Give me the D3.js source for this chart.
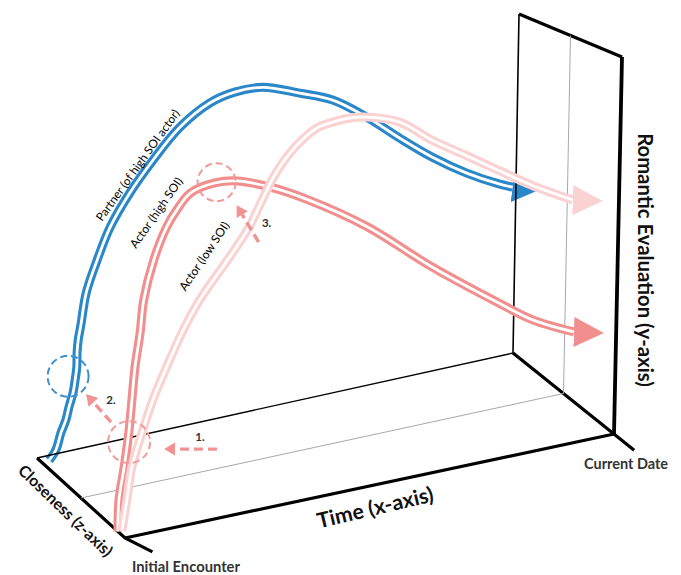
<!DOCTYPE html>
<html><head><meta charset="utf-8">
<script src="https://cdn.jsdelivr.net/npm/d3@7"></script>
<style>body{margin:0;background:#fff}svg{display:block}</style>
</head><body>
<svg id="chart" width="681" height="575"></svg>
<script>
// ---------------- data ----------------
const seriesNames = ["Partner (of high SOI actor)", "Actor (high SOI)", "Actor (low SOI)"];
const seriesCloseness = [0.95, 0.08, 0.08];   // z-position of each trajectory (0 = front, 1 = back)

// time: % of span Initial Encounter -> Current Date ; eval: % of romantic evaluation axis
const partnerTime = [1.6, 3.0, 4.0, 5.0, 5.6, 6.4, 6.8, 7.1, 7.1, 7.3, 7.8, 8.8, 11.0, 13.6, 17.6, 22.4, 27.9, 34.1, 39.3, 45.2, 53.0, 60.0, 67.2, 74.2, 81.2, 88.5, 95.5, 98.2];
const partnerEval = [0, 2.6, 7.3, 10.8, 14.4, 18.3, 22.0, 25.7, 29.8, 33.6, 37.8, 46.9, 55.9, 64.7, 73.5, 81.7, 89.6, 94.8, 96.4, 96.0, 91.9, 87.7, 80.5, 72.2, 64.4, 57.5, 52.1, 50.4];

const actorHighTime = [0, 0.07, 1.0, 1.8, 2.3, 2.8, 3.7, 4.3, 6.2, 8.7, 10.7, 13.5, 18.4, 22.9, 29.7, 38.0, 50.0, 63.6, 77.5, 84.6, 93.0];
const actorHighEval = [0, 8.4, 17.0, 25.9, 34.5, 43.2, 52.1, 60.7, 70.9, 79.0, 83.0, 86.8, 88.1, 87.4, 83.9, 78.0, 67.6, 53.0, 39.5, 33.0, 27.5];

const actorLowTime = [0.8, 1.7, 2.6, 4.5, 6.6, 9.3, 12.3, 15.8, 21.4, 25.7, 27.8, 30.4, 32.4, 35.2, 39.2, 42.5, 46.0, 49.7, 56.3, 62.9, 69.9, 76.7, 83.6, 92.2];
const actorLowEval = [0, 8.0, 16.6, 25.1, 33.3, 41.4, 49.7, 57.5, 66.7, 74.3, 79.6, 86.1, 89.8, 93.6, 97.0, 97.7, 97.8, 97.0, 93.8, 87.2, 81.2, 75.3, 69.4, 63.0];

// highlighted moments (dashed circles)
const highlightTime = [5.3, 1.9, 18.8];
const highlightEval = [23.5, 23.4, 88.2];
const highlightCloseness = [0.95, 0.08, 0.08];

const timeTickLabels = ["Initial Encounter", "Current Date"];
const axisTitles = ["Time (x-axis)", "Romantic Evaluation (y-axis)", "Closeness (z-axis)"];
const stepLabels = ["1.", "2.", "3."];

// ---------------- layout / projection ----------------
const svg = d3.select("#chart");
const FONT = "Lato, 'Open Sans', sans-serif";

const tScale = d3.scaleLinear().domain([0, 100]).range([0, 1]);
const vScale = d3.scaleLinear().domain([0, 100]).range([0, 1]);
const zScale = d3.scaleLinear().domain([0, 1]).range([0, 1]);

// floor corners & wall height vectors (screen px)
const FL = [125, 538], FR = [614, 434], BL = [37, 458], BR = [513, 353];
const UF = [8, -377], UB = [6, -339];

function proj(t, v, z) {
  const fx = (1 - z) * ((1 - t) * FL[0] + t * FR[0]) + z * ((1 - t) * BL[0] + t * BR[0]);
  const fy = (1 - z) * ((1 - t) * FL[1] + t * FR[1]) + z * ((1 - t) * BL[1] + t * BR[1]);
  const ux = (1 - z) * UF[0] + z * UB[0];
  const uy = (1 - z) * UF[1] + z * UB[1];
  return [fx + v * ux, fy + v * uy];
}
const P = (time, ev, cl) => proj(tScale(time), vScale(ev), zScale(cl));

const gCurves = svg.append("g");
const gAnno = svg.append("g");

// frame (box edges) in unit coords [t, v, z]
const frameLines = [
  {pts: [[0.02, 0, -0.2], [0, 0, 0], [0, 0, 1]], w: 3.2, c: "#000"},
  {pts: [[0, 0, 0], [1, 0, 0]], w: 3.2, c: "#000"},
  {pts: [[1, 0, -0.2], [1, 0, 1]], w: 3.2, c: "#000"},
  {pts: [[1, 0, 0], [1, 1, 0]], w: 3.8, c: "#000"},
  {pts: [[1, 1, 0], [1, 1, 1]], w: 3.2, c: "#000"},
  {pts: [[0, 0, 1], [1, 0, 1]], w: 1.4, c: "#000"},
  {pts: [[1, 0, 1], [1, 1, 1]], w: 1.6, c: "#000"},
  {pts: [[0, 0, 0.5], [1, 0, 0.5], [1, 1, 0.5]], w: 1, c: "#a8a8a8"}
];
const frameLine = d3.line();

// curves
const curveLine = d3.line().curve(d3.curveCatmullRom.alpha(0.5));
const series = [
  {name: seriesNames[0], time: partnerTime, ev: partnerEval, z: seriesCloseness[0], color: "#2a87c8", arrowLen: 26, arrowHalf: 15, arrowAngle: 7},
  {name: seriesNames[1], time: actorHighTime, ev: actorHighEval, z: seriesCloseness[1], color: "#f18e8e", arrowLen: 30, arrowHalf: 15, arrowAngle: 2},
  {name: seriesNames[2], time: actorLowTime, ev: actorLowEval, z: seriesCloseness[2], color: "#fbd2d2", arrowLen: 30, arrowHalf: 15, arrowAngle: 2}
];

const defs = svg.append("defs");
series.forEach((s, i) => {
  defs.append("marker")
    .attr("id", "ah" + i)
    .attr("markerUnits", "userSpaceOnUse")
    .attr("viewBox", `0 ${-s.arrowHalf} ${s.arrowLen} ${2 * s.arrowHalf}`)
    .attr("markerWidth", s.arrowLen).attr("markerHeight", 2 * s.arrowHalf)
    .attr("refX", 0).attr("refY", 0)
    .attr("orient", s.arrowAngle)
    .append("path")
    .attr("d", `M0,${-s.arrowHalf}L${s.arrowLen},0L0,${s.arrowHalf}Z`)
    .attr("fill", s.color);
});

function drawSeries(s, i) {
  const pts = s.time.map((t, k) => P(t, s.ev[k], s.z));
  gCurves.append("path").attr("d", curveLine(pts)).attr("fill", "none")
    .attr("stroke", s.color).attr("stroke-width", 9).attr("marker-end", `url(#ah${i})`);
  gCurves.append("path").attr("d", curveLine(pts)).attr("fill", "none")
    .attr("stroke", "#fff").attr("stroke-width", 2.8);
}

// layering: blue curve, frame, red curves
drawSeries(series[0], 0);
frameLines.forEach(f => {
  gCurves.append("path").attr("d", frameLine(f.pts.map(p => proj(p[0], p[1], p[2]))))
    .attr("fill", "none").attr("stroke", f.c).attr("stroke-width", f.w)
    .attr("stroke-linejoin", "miter");
});
drawSeries(series[1], 1);
drawSeries(series[2], 2);

// ---------------- annotations ----------------
const hl = highlightTime.map((t, i) => P(t, highlightEval[i], highlightCloseness[i]));
const hlRadius = [20.5, 21, 19];
const hlColor = ["#3d8fcf", "#f19a9a", "#f19a9a"];
hl.forEach((c, i) => {
  gAnno.append("circle").attr("cx", c[0]).attr("cy", c[1]).attr("r", hlRadius[i])
    .attr("fill", "none").attr("stroke", hlColor[i]).attr("stroke-width", 2)
    .attr("stroke-dasharray", "7,4");
});

const arrowColor = "#f19393";
function dashedArrow(a, b) {
  const dx = b[0] - a[0], dy = b[1] - a[1], L = Math.hypot(dx, dy);
  const ux = dx / L, uy = dy / L, hl = 11, hw = 6.5;
  const base = [b[0] - ux * hl, b[1] - uy * hl];
  gAnno.append("line").attr("x1", a[0]).attr("y1", a[1]).attr("x2", base[0]).attr("y2", base[1])
    .attr("stroke", arrowColor).attr("stroke-width", 3.4).attr("stroke-dasharray", "9,5");
  gAnno.append("path")
    .attr("d", `M${b[0]},${b[1]}L${base[0] - uy * hw},${base[1] + ux * hw}L${base[0] + uy * hw},${base[1] - ux * hw}Z`)
    .attr("fill", arrowColor);
}
const c1 = hl[1], c2 = hl[2];
dashedArrow([c1[0] + 88, c1[1] + 7], [c1[0] + 35, c1[1] + 7]);
dashedArrow([c1[0] - 18, c1[1] - 20], [c1[0] - 43, c1[1] - 48]);
dashedArrow([c2[0] + 42, c2[1] + 60], [c2[0] + 20, c2[1] + 23]);

const stepPos = [[c1[0] + 71, c1[1] - 6], [c1[0] - 18, c1[1] - 43], [c2[0] + 50, c2[1] + 40]];
stepLabels.forEach((s, i) => {
  gAnno.append("text").attr("x", stepPos[i][0]).attr("y", stepPos[i][1])
    .attr("text-anchor", "middle").attr("dominant-baseline", "central")
    .attr("font-family", FONT).attr("font-weight", 700).attr("font-size", 11.5)
    .attr("fill", "#333").text(s);
});

// text helper: fit to a target length
function label(txt, x, y, rot, targetLen, opts) {
  const t = gAnno.append("text")
    .attr("text-anchor", "middle").attr("dominant-baseline", "central")
    .attr("font-family", FONT).attr("font-weight", opts.weight || 400)
    .attr("fill", opts.color || "#000")
    .attr("font-size", 12)
    .attr("transform", `translate(${x},${y}) rotate(${rot})`)
    .text(txt);
  const len = t.node().getComputedTextLength();
  t.attr("font-size", 12 * targetLen / len);
  return t;
}

// curve labels
label(seriesNames[0], 137.5, 165, -54.3, 134, {});
label(seriesNames[1], 156, 212.5, -55.2, 83, {});
label(seriesNames[2], 204, 256, -56, 80, {});

// axis titles
label(axisTitles[0], 375, 507, -13.3, 119, {weight: 700, color: "#111"});
label(axisTitles[1], 646, 260, 90, 254, {weight: 700, color: "#111"});
label(axisTitles[2], 66, 510, 44, 124, {weight: 700, color: "#111"});

// time tick labels
label(timeTickLabels[0], 186, 566, 0, 108, {weight: 700, color: "#333"});
label(timeTickLabels[1], 626, 463, 0, 84, {weight: 700, color: "#333"});
</script>
</body></html>
